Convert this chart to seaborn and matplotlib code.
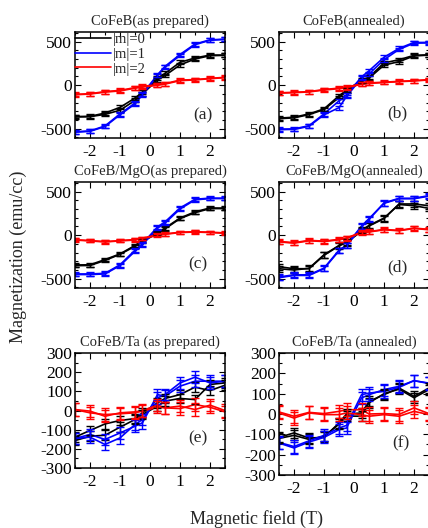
import numpy as np
import pandas as pd
import seaborn as sns
import matplotlib.pyplot as plt
from matplotlib.lines import Line2D
from matplotlib.ticker import MultipleLocator

sns.set_style("ticks")
plt.rcParams['font.family'] = ['Liberation Serif', 'DejaVu Serif']
plt.rcParams['axes.unicode_minus'] = False

# magnetic field points (T)
field = [-2.5, -2, -1.5, -1, -0.5, -0.25, 0.25, 0.5, 1, 1.5, 2, 2.5]

# (a) CoFeB as prepared
a_m0_up = [-365, -362, -335, -288, -175, -100, 60, 110, 232, 300, 338, 342]
a_m0_dn = [-360, -358, -320, -255, -148, -80, 80, 135, 262, 312, 345, 345]
a_m1_up = [-540, -530, -475, -340, -215, -110, 110, 205, 340, 465, 515, 525]
a_m1_dn = [-535, -525, -468, -330, -205, -100, 120, 215, 352, 472, 520, 528]
a_m2_up = [-110, -102, -80, -66, -35, -22, -2, 12, 52, 60, 74, 86]
a_m2_dn = [-106, -98, -74, -60, -28, -14, 6, 18, 58, 64, 78, 90]

# (b) CoFeB annealed
b_m0_up = [-385, -375, -338, -280, -142, -70, 42, 80, 230, 270, 335, 345]
b_m0_dn = [-378, -368, -330, -272, -122, -58, 55, 92, 255, 292, 342, 348]
b_m1_up = [-510, -508, -472, -340, -258, -130, 82, 128, 292, 410, 482, 485]
b_m1_dn = [-505, -502, -465, -330, -180, -112, 95, 165, 320, 422, 490, 490]
b_m2_up = [-92, -86, -78, -56, -40, -30, 10, 20, 30, 40, 48, 60]
b_m2_dn = [-88, -82, -74, -50, -34, -22, 15, 26, 34, 44, 52, 64]

# (c) CoFeB/MgO as prepared
c_m0_up = [-350, -348, -290, -220, -128, -70, 18, 72, 190, 258, 305, 305]
c_m0_dn = [-342, -340, -280, -215, -118, -60, 28, 82, 196, 268, 312, 310]
c_m1_up = [-452, -452, -445, -350, -185, -110, 80, 138, 300, 405, 420, 420]
c_m1_dn = [-445, -445, -438, -340, -172, -98, 95, 152, 312, 412, 425, 424]
c_m2_up = [-56, -66, -78, -66, -56, -40, -2, 10, 30, 36, 30, 22]
c_m2_dn = [-52, -62, -74, -62, -50, -34, 4, 14, 34, 40, 34, 26]

# (d) CoFeB/MgO annealed
d_m0_up = [-362, -385, -385, -231, -123, -85, 45, 105, 190, 358, 358, 338]
d_m0_dn = [-385, -400, -380, -225, -118, -80, 55, 112, 196, 352, 338, 308]
d_m1_up = [-488, -462, -462, -385, -180, -123, 95, 180, 370, 423, 423, 454]
d_m1_dn = [-480, -455, -455, -378, -172, -115, 105, 190, 365, 418, 418, 448]
d_m2_up = [-77, -92, -65, -73, -54, -38, 28, 36, 62, 50, 77, 62]
d_m2_dn = [-72, -86, -60, -68, -48, -32, 34, 40, 66, 54, 82, 66]

# (e) CoFeB/Ta as prepared
e_m0_up = [-139, -104, -70, -52, -42, -12, 40, 63, 83, 122, 104, 132]
e_m0_dn = [-157, -134, -129, -87, -47, -21, 23, 49, 63, 57, 136, 144]
e_m1_up = [-146, -139, -177, -143, -73, -47, 66, 83, 144, 174, 144, 153]
e_m1_dn = [-146, -125, -151, -117, -82, -64, 83, 75, 127, 153, 153, 153]
e_m2_up = [5, -12, -21, -17, -12, -3, 17, 14, 10, 31, 17, -7]
e_m2_dn = [5, -3, -30, -12, -7, 0, 28, 14, 23, 5, 28, 0]

# (f) CoFeB/Ta annealed
f_m0_up = [-115, -93, -118, -115, -44, 0, 5, 62, 95, 128, 87, 128]
f_m0_dn = [-120, -105, -125, -110, -50, -10, -11, 55, 100, 122, 80, 120]
f_m1_up = [-143, -167, -138, -115, -77, -69, 79, 95, 120, 136, 164, 152]
f_m1_dn = [-140, -160, -132, -105, -69, -56, 95, 103, 111, 131, 164, 150]
f_m2_up = [5, -20, 5, -3, -3, 5, -3, -11, -3, -11, 13, -3]
f_m2_dn = [10, -11, 8, 2, 13, 21, 21, 0, 2, -2, 30, 2]

# error bar half widths per panel, for |m|=0,1,2
err_ab = [22, 22, 22]
err_c = [20, 22, 18]
err_d = [35, 30, 25]
err_ef = [25, 30, 32]

titles = ['CoFeB(as prepared)', 'CoFeB(annealed)',
          'CoFeB/MgO(as prepared)', 'CoFeB/MgO(annealed)',
          'CoFeB/Ta (as prepared)', 'CoFeB/Ta (annealed)']
tags = ['(a)', '(b)', '(c)', '(d)', '(e)', '(f)']
labels = ['|m|=0', '|m|=1', '|m|=2']
colors = ['black', '#0000ff', '#ff0000']

panels = [
    [(a_m0_up, a_m0_dn), (a_m1_up, a_m1_dn), (a_m2_up, a_m2_dn)],
    [(b_m0_up, b_m0_dn), (b_m1_up, b_m1_dn), (b_m2_up, b_m2_dn)],
    [(c_m0_up, c_m0_dn), (c_m1_up, c_m1_dn), (c_m2_up, c_m2_dn)],
    [(d_m0_up, d_m0_dn), (d_m1_up, d_m1_dn), (d_m2_up, d_m2_dn)],
    [(e_m0_up, e_m0_dn), (e_m1_up, e_m1_dn), (e_m2_up, e_m2_dn)],
    [(f_m0_up, f_m0_dn), (f_m1_up, f_m1_dn), (f_m2_up, f_m2_dn)],
]
errs = [err_ab, err_ab, err_c, err_d, err_ef, err_ef]

##AXES RECTANGLES (figure fraction) ....
rects = [
    [0.1752, 0.7377, 0.3505, 0.2017],
    [0.6519, 0.7377, 0.3505, 0.2017],
    [0.1752, 0.4536, 0.3505, 0.2017],
    [0.6519, 0.4536, 0.3505, 0.2017],
    [0.1752, 0.1136, 0.3505, 0.2178],
    [0.6519, 0.1004, 0.3505, 0.2310],
]
tag_pos = [(0.85, 0.22), (0.79, 0.24), (0.82, 0.23), (0.79, 0.20), (0.82, 0.26), (0.81, 0.26)]

fig = plt.figure(figsize=(4.28, 5.28), dpi=100)

for i in range(6):
    ax = fig.add_axes(rects[i])
    rows = []
    for m, (up, dn) in enumerate(panels[i]):
        for br, vals in (('up', up), ('dn', dn)):
            for x, y in zip(field, vals):
                rows.append({'field': x, 'M': y, 'm': labels[m], 'branch': br})
    df = pd.DataFrame(rows)
    sns.lineplot(data=df, x='field', y='M', hue='m', units='branch', estimator=None,
                 palette=dict(zip(labels, colors)), sort=False, legend=False,
                 lw=1.2, ax=ax)
    for m, (up, dn) in enumerate(panels[i]):
        for vals in (up, dn):
            ax.errorbar(field, vals, yerr=errs[i][m], fmt='none', ecolor=colors[m],
                        elinewidth=1.0, capsize=3, capthick=1.0)

    ax.set_xlim(-2.5, 2.5)
    ax.xaxis.set_major_locator(MultipleLocator(1))
    ax.xaxis.set_minor_locator(MultipleLocator(0.5))
    if i < 4:
        ax.set_ylim(-612, 610)
        ax.yaxis.set_major_locator(MultipleLocator(500))
        ax.yaxis.set_minor_locator(MultipleLocator(100))
    else:
        ax.set_ylim(-300, 300)
        ax.yaxis.set_major_locator(MultipleLocator(100))
        ax.yaxis.set_minor_locator(MultipleLocator(50))
    ax.tick_params(which='both', direction='in', top=True, right=True,
                   labelsize=12.5, width=0.8, colors='black')
    ax.tick_params(axis='x', which='major', pad=4)
    ax.tick_params(axis='y', which='major', pad=2)
    ax.tick_params(which='major', length=4.5)
    ax.tick_params(which='minor', length=2.5)
    for s in ax.spines.values():
        s.set_linewidth(1.1)
        s.set_color('black')
    ax.set_xlabel('')
    ax.set_ylabel('')
    ax.set_title(titles[i], fontsize=10.5, pad=5)
    ax.text(tag_pos[i][0], tag_pos[i][1], tags[i], transform=ax.transAxes,
            fontsize=12.5, ha='center', va='center')

    if i == 0:
        handles = [Line2D([], [], color=c, lw=1.2) for c in colors]
        ax.legend(handles, labels, loc='upper left', bbox_to_anchor=(0.0, 0.99),
                  frameon=False, fontsize=10.5, handlelength=2.5, handletextpad=0.1,
                  labelspacing=0.1, borderpad=0.0, borderaxespad=0.0)

fig.text(0.042, 0.513, 'Magnetization (emu/cc)', rotation=90, fontsize=13,
         ha='center', va='center')
fig.text(0.60, 0.017, 'Magnetic field (T)', fontsize=13, ha='center', va='center')

fig.savefig('out.png', dpi=100)
